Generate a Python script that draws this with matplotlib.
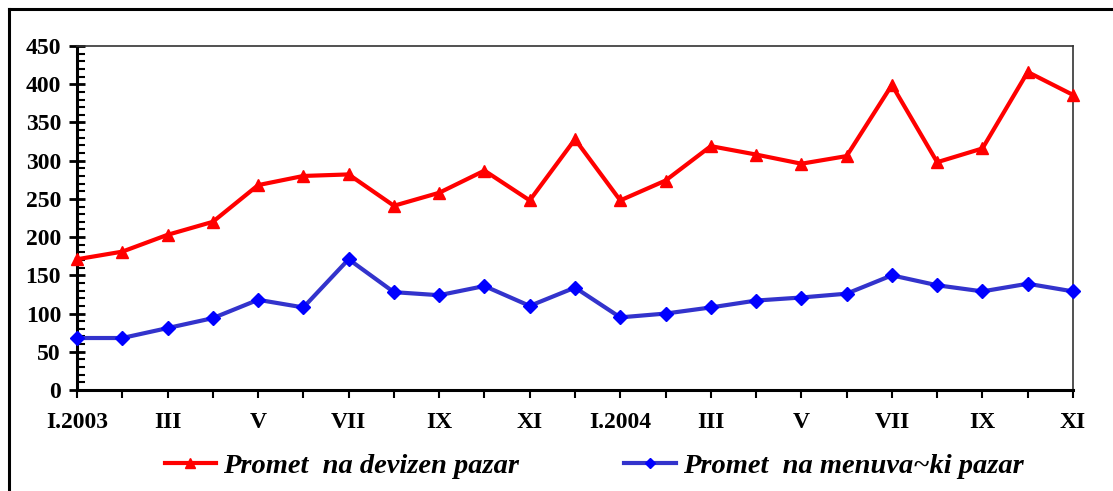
import matplotlib.pyplot as plt
from matplotlib.lines import Line2D
from matplotlib.ticker import MultipleLocator

# monthly turnover, I.2003 - XI.2004
months = ['I.2003', 'II', 'III', 'IV', 'V', 'VI', 'VII', 'VIII', 'IX', 'X', 'XI', 'XII',
          'I.2004', 'II', 'III', 'IV', 'V', 'VI', 'VII', 'VIII', 'IX', 'X', 'XI']
devizen = [171, 181, 203, 220, 268, 280, 282, 241, 258, 287, 248, 328,
           248, 274, 319, 308, 296, 306, 399, 298, 316, 416, 386]
menuvacki = [68, 68, 81, 94, 118, 108, 171, 128, 124, 136, 110, 134,
             95, 100, 108, 117, 121, 126, 150, 137, 129, 139, 129]
label_red = 'Promet  na devizen pazar'
label_blue = 'Promet  na menuva~ki pazar'

plt.rcParams['font.family'] = ['Liberation Serif', 'DejaVu Serif']
plt.rcParams['font.weight'] = 'bold'

fig = plt.figure(figsize=(11.13, 4.91), dpi=100)
ax = fig.add_axes([77/1113, 1 - 390/491, (1073-77)/1113, (390-46)/491])

x = list(range(len(months)))
ax.plot(x, devizen, color='#ff0000', lw=3, marker='^', ms=9, mfc='#ff0000', mec='#ff0000',
        label=label_red, clip_on=False, zorder=3)
ax.plot(x, menuvacki, color='#3333cc', lw=3, marker='D', ms=7, mfc='#0000ff', mec='#0000ff',
        label=label_blue, clip_on=False, zorder=3)

ax.set_xlim(0, len(months) - 1)
ax.set_ylim(0, 450)
ax.yaxis.set_major_locator(MultipleLocator(50))
ax.yaxis.set_minor_locator(MultipleLocator(10))
ax.set_xticks(x)
ax.set_xticklabels([m if i % 2 == 0 else '' for i, m in enumerate(months)])

ax.tick_params(axis='y', which='major', direction='inout', length=11, width=2, labelsize=17, pad=6)
ax.tick_params(axis='y', which='minor', direction='in', length=6, width=1.5)
ax.tick_params(axis='x', which='major', direction='out', length=6, width=1.5, labelsize=17, pad=10)
for lab in ax.get_xticklabels() + ax.get_yticklabels():
    lab.set_fontweight('bold')

for s in ['left', 'bottom']:
    ax.spines[s].set_linewidth(2.2)
for s in ['top', 'right']:
    ax.spines[s].set_linewidth(1.2)
    ax.spines[s].set_color('#333333')

# outer chart border
fig.add_artist(Line2D([9/1113, 9/1113], [0, 1 - 9/491], color='black', lw=2.2))
fig.add_artist(Line2D([9/1113, 1], [1 - 9/491, 1 - 9/491], color='black', lw=2.2))

leg = fig.legend(loc='center', bbox_to_anchor=(594/1113, 1 - 466/491), ncol=2, frameon=False,
                 prop={'family': 'Liberation Serif', 'weight': 'bold', 'style': 'italic', 'size': 20.5},
                 handlelength=1.8, handletextpad=0.25, columnspacing=3.7, markerscale=0.8)

fig.savefig('out.png', dpi=100)
